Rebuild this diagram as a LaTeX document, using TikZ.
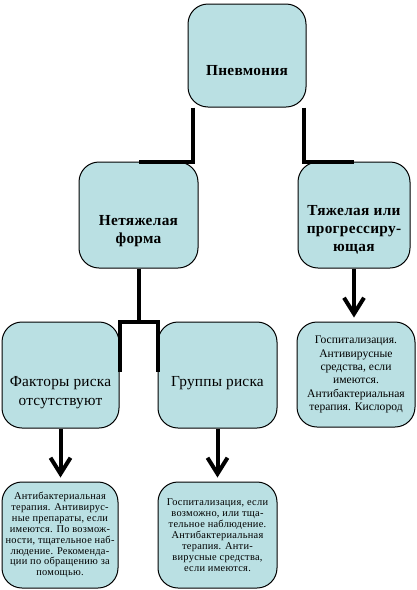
\documentclass[tikz,border=0pt]{standalone}
\usepackage{fontspec}
\setmainfont{Liberation Serif}
\usetikzlibrary{arrows.meta}

\definecolor{boxfill}{RGB}{186,224,227}

\tikzset{
    box/.style={draw, line width=0.75pt, fill=boxfill, rounded corners=15pt,
        minimum width=#1, minimum height=79.5pt, inner sep=0pt},
    headtext/.style={align=center, font=\fontsize{11.5pt}{13.5pt}\selectfont\bfseries\addfontfeature{LetterSpace=2}},
    midtext/.style={align=center, font=\fontsize{11.5pt}{14.2pt}\selectfont\addfontfeature{LetterSpace=1.5}},
    smalltext/.style={align=center, font=\fontsize{8.7pt}{10pt}\selectfont},
    tinytext/.style={align=center, font=\fontsize{7.8pt}{8.2pt}\selectfont\addfontfeature{LetterSpace=2.5}},
    link/.style={line width=3pt},
    arrow/.style={link, -{Straight Barb[length=12pt,width=15pt]}, shorten >=3pt},
}

\begin{document}
\begin{tikzpicture}[x=0.75pt, y=-0.75pt]
    \useasboundingbox (0,0) rectangle (417,590);
    % boxes
    \node[box=88.5pt, minimum height=77.25pt] (pneu) at (247,55.5) {};
    \node[box=89.25pt] (mild) at (138.5,215) {};
    \node[box=84pt] (severe) at (354,215) {};
    \node[box=87.75pt] (norisk) at (60.5,375) {};
    \node[box=89.25pt] (risk) at (217.5,375) {};
    \node[box=88.5pt, minimum height=78.75pt] (hosp) at (356,374.5) {};
    \node[box=87pt] (abnorisk) at (60,535) {};
    \node[box=89.25pt] (abrisk) at (217.5,535) {};

    % texts
    \node[headtext] (pneulbl) at ([yshift=-11pt]pneu.center) {Пневмония};
    \node[headtext] (mildlbl) at ([yshift=-12pt]mild.center) {Нетяжелая\\форма};
    \node[headtext] (severelbl) at ([yshift=-11pt]severe.center) {Тяжелая или\\прогрессиру-\\ющая};
    \node[midtext] (norisklbl) at ([yshift=-13pt]norisk.center) {Факторы риска\\отсутствуют};
    \node[midtext] (risklbl) at ([yshift=-6pt]risk.center) {Группы риска};
    \node[smalltext] (hosplbl) at (hosp.center) {Госпитализация.\\Антивирусные\\средства, если\\имеются.\\Антибактериальная\\терапия. Кислород};
    \node[tinytext] (abnorisklbl) at (abnorisk.center) {Антибактериальная\\терапия. Антивирус-\\ные препараты, если\\имеются. По возмож-\\ности, тщательное наб-\\людение. Рекоменда-\\ции по обращению за\\помощью.};
    \node[tinytext] (abrisklbl) at (abrisk.center) {Госпитализация, если\\возможно, или тща-\\тельное наблюдение.\\Антибактериальная\\терапия. Анти-\\вирусные средства,\\если имеются.};

    % connectors
    \draw[link] (pneu.south west) ++(5,0) |- (mild.north);
    \draw[link] (pneu.south east) ++(-3,0) |- (severe.north);
    \draw[link] (mild.south) -- (mild.south |- norisk.north);
    \draw[link] (norisk.north east) ++(0,50) -- ++(0,-50) -- (risk.north west) -- ++(0,50);
    \draw[arrow] (severe.south) -- (severe.south |- hosp.north);
    \draw[arrow] (norisk.south) -- (norisk.south |- abnorisk.north);
    \draw[arrow] (risk.south) -- (risk.south |- abrisk.north);
\end{tikzpicture}
\end{document}
